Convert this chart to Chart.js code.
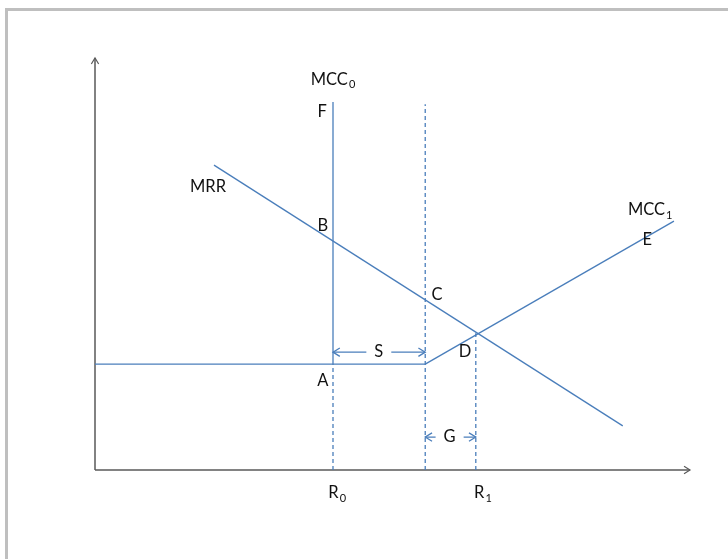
<!DOCTYPE html>
<html>
<head>
<meta charset="utf-8">
<script src="https://cdn.jsdelivr.net/npm/chart.js@4.4.0/dist/chart.umd.min.js"></script>
<style>
  html, body { margin: 0; padding: 0; background: #fff; }
  #wrap { width: 728px; height: 559px; }
</style>
</head>
<body>
<div id="wrap"><canvas id="chart" width="728" height="559"></canvas></div>
<script>
// Curvas del diagrama (unidades del eje: 0-100)
const mcc0 = [[40, 25.7], [40, 89.3]];
const mccPlano = [[0, 25.7], [55.5, 25.7]];
const mcc1 = [[55.5, 25.7], [97.3, 60.4]];
const mrr = [[20, 74], [88.7, 10.7]];

// Líneas de referencia punteadas
const guiaR0 = [[40, 0], [40, 25.7]];
const guiaS = [[55.5, 0], [55.5, 88.8]];
const guiaR1 = [[64.0, 0], [64.0, 33.2]];

// Flechas dobles S y G
const flechaS = [[40, 28.6], [55.5, 28.6]];
const flechaG = [[55.5, 8], [64.0, 8]];

// Etiquetas: texto, subíndice y posición en unidades del eje
const etiquetas = ['MCC', 'F', 'MRR', 'B', 'C', 'D', 'A', 'MCC', 'E', 'R', 'R', 'S', 'G'];
const subindices = ['0', '', '', '', '', '', '', '1', '', '0', '1', '', ''];
const etiquetasX = [40.0, 38.2, 19.0, 38.3, 57.5, 62.2, 38.3, 93.3, 92.8, 40.7, 65.2, 47.7, 59.6];
const etiquetasY = [94.7, 86.9, 68.7, 59.2, 42.5, 28.6, 21.8, 63.1, 55.8, -5.6, -5.6, 28.6, 8.0];

const azul = '#4a7ebb';
const fuente = 'Lato, "Open Sans", sans-serif';

const aPuntos = arr => arr.map(p => ({ x: p[0], y: p[1] }));

const linea = (datos, punteada, flechas) => ({
    data: aPuntos(datos),
    showLine: true,
    borderColor: azul,
    backgroundColor: azul,
    borderWidth: 1.3,
    borderDash: punteada ? [4, 3] : [],
    pointRadius: 0,
    fill: false,
    flechas: flechas || false
});

// Dibuja una punta de flecha abierta
function punta(ctx, x, y, ang, tam) {
    ctx.beginPath();
    ctx.moveTo(x - tam * Math.cos(ang - 0.55), y - tam * Math.sin(ang - 0.55));
    ctx.lineTo(x, y);
    ctx.lineTo(x - tam * Math.cos(ang + 0.55), y - tam * Math.sin(ang + 0.55));
    ctx.stroke();
}

const marco = {
    id: 'marco',
    beforeDraw(chart) {
        const ctx = chart.ctx;
        ctx.save();
        ctx.fillStyle = '#fff';
        ctx.fillRect(0, 0, chart.width, chart.height);
        ctx.strokeStyle = '#bfbfbf';
        ctx.lineWidth = 3;
        ctx.beginPath();
        ctx.moveTo(6.5, chart.height + 5);
        ctx.lineTo(6.5, 9.5);
        ctx.lineTo(chart.width + 5, 9.5);
        ctx.stroke();

        // ejes con flecha
        const a = chart.chartArea;
        ctx.strokeStyle = '#5a5a5a';
        ctx.lineWidth = 1.5;
        ctx.beginPath();
        ctx.moveTo(a.left, a.bottom);
        ctx.lineTo(a.left, a.top);
        ctx.moveTo(a.left, a.bottom);
        ctx.lineTo(a.right, a.bottom);
        ctx.stroke();
        ctx.lineWidth = 1.2;
        punta(ctx, a.left, a.top, -Math.PI / 2, 7);
        punta(ctx, a.right, a.bottom, 0, 7);
        ctx.restore();
    },
    afterDatasetsDraw(chart) {
        const ctx = chart.ctx;
        const sx = chart.scales.x, sy = chart.scales.y;
        ctx.save();
        ctx.strokeStyle = azul;
        ctx.lineWidth = 1.3;
        chart.data.datasets.forEach(ds => {
            if (!ds.flechas) return;
            const p0 = ds.data[0], p1 = ds.data[ds.data.length - 1];
            const x0 = sx.getPixelForValue(p0.x), y0 = sy.getPixelForValue(p0.y);
            const x1 = sx.getPixelForValue(p1.x), y1 = sy.getPixelForValue(p1.y);
            const ang = Math.atan2(y1 - y0, x1 - x0);
            punta(ctx, x1, y1, ang, 8);
            punta(ctx, x0, y0, ang + Math.PI, 8);
        });

        ctx.textBaseline = 'middle';
        etiquetas.forEach((t, i) => {
            const px = sx.getPixelForValue(etiquetasX[i]);
            const py = sy.getPixelForValue(etiquetasY[i]);
            ctx.font = '16.5px ' + fuente;
            const w = ctx.measureText(t).width;
            ctx.font = '11px ' + fuente;
            const ws = subindices[i] ? ctx.measureText(subindices[i]).width + 1 : 0;
            const total = w + ws;
            const x0 = px - total / 2;
            if (t === 'S' || t === 'G') {
                ctx.fillStyle = '#fff';
                ctx.fillRect(x0 - 8, py - 6, total + 16, 12);
            }
            ctx.fillStyle = '#111';
            ctx.textAlign = 'left';
            ctx.font = '16.5px ' + fuente;
            ctx.fillText(t, x0, py);
            if (subindices[i]) {
                ctx.font = '11px ' + fuente;
                ctx.fillText(subindices[i], x0 + w + 1, py + 5);
            }
        });
        ctx.restore();
    }
};

new Chart(document.getElementById('chart').getContext('2d'), {
    type: 'scatter',
    data: {
        datasets: [
            linea(mcc0),
            linea(mccPlano),
            linea(mcc1),
            linea(mrr),
            linea(guiaR0, true),
            linea(guiaS, true),
            linea(guiaR1, true),
            linea(flechaS, false, true),
            linea(flechaG, false, true)
        ]
    },
    options: {
        responsive: false,
        animation: false,
        layout: { padding: { left: 95, right: 38, top: 58, bottom: 89 } },
        plugins: { legend: { display: false }, tooltip: { enabled: false } },
        scales: {
            x: { type: 'linear', min: 0, max: 100, display: false },
            y: { type: 'linear', min: 0, max: 100, display: false }
        }
    },
    plugins: [marco]
});
</script>
</body>
</html>
